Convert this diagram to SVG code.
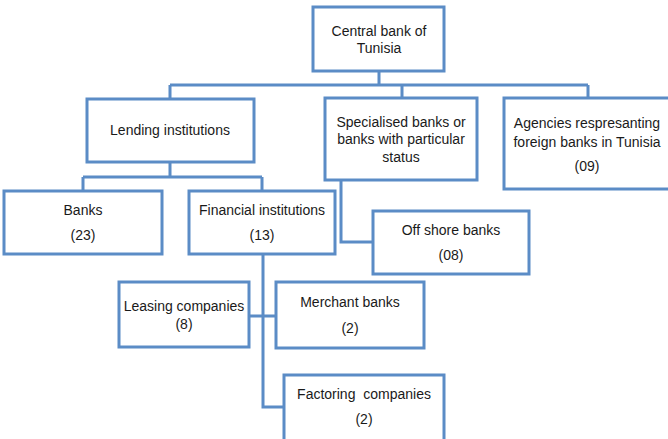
<svg xmlns="http://www.w3.org/2000/svg" width="668" height="439" viewBox="0 0 668 439">
<style>
.box{fill:#ffffff;stroke:#5B8CC6;stroke-width:3}
.ln{fill:none;stroke:#5B8CC6;stroke-width:3}
text{font-family:"Liberation Sans",Arial,sans-serif;font-size:14px;fill:#1a1a1a;text-anchor:middle}
</style>
<rect width="668" height="439" fill="#ffffff"/>
<g id="connectors">
<path class="ln" d="M379,71V85M170,85H588M170,85V99M402,85V98M588,85V98"/>
<path class="ln" d="M170,162V177M83,177H262M83,177V191M262,177V191"/>
<path class="ln" d="M341,180V242H373"/>
<path class="ln" d="M263,254V407H284M249,316H276"/>
</g>
<g id="central"><rect class="box" x="313" y="7" width="131" height="64"/><text x="379" y="36">Central bank of</text><text x="379" y="53">Tunisia</text></g>
<g id="lending"><rect class="box" x="87" y="99" width="167" height="63"/><text x="170" y="135">Lending institutions</text></g>
<g id="specialised"><rect class="box" x="325" y="98" width="152" height="82"/><text x="401" y="127">Specialised banks or</text><text x="401" y="144">banks with particular</text><text x="401" y="162">status</text></g>
<g id="agencies"><rect class="box" x="504" y="98" width="168" height="91"/><text x="587" y="128">Agencies respresanting</text><text x="587" y="147">foreign banks in Tunisia</text><text x="587" y="171">(09)</text></g>
<g id="banks"><rect class="box" x="4" y="191" width="158" height="63"/><text x="83" y="215">Banks</text><text x="83" y="240">(23)</text></g>
<g id="financial"><rect class="box" x="189" y="191" width="146" height="63"/><text x="262" y="215">Financial institutions</text><text x="262" y="240">(13)</text></g>
<g id="offshore"><rect class="box" x="373" y="211" width="156" height="63"/><text x="451" y="235">Off shore banks</text><text x="451" y="260">(08)</text></g>
<g id="leasing"><rect class="box" x="119" y="282" width="130" height="65"/><text x="184" y="311">Leasing companies</text><text x="184" y="329">(8)</text></g>
<g id="merchant"><rect class="box" x="276" y="282" width="148" height="66"/><text x="350" y="307">Merchant banks</text><text x="350" y="333">(2)</text></g>
<g id="factoring"><rect class="box" x="284" y="375" width="160" height="68"/><text x="364" y="399" xml:space="preserve">Factoring  companies</text><text x="364" y="424">(2)</text></g>
</svg>
